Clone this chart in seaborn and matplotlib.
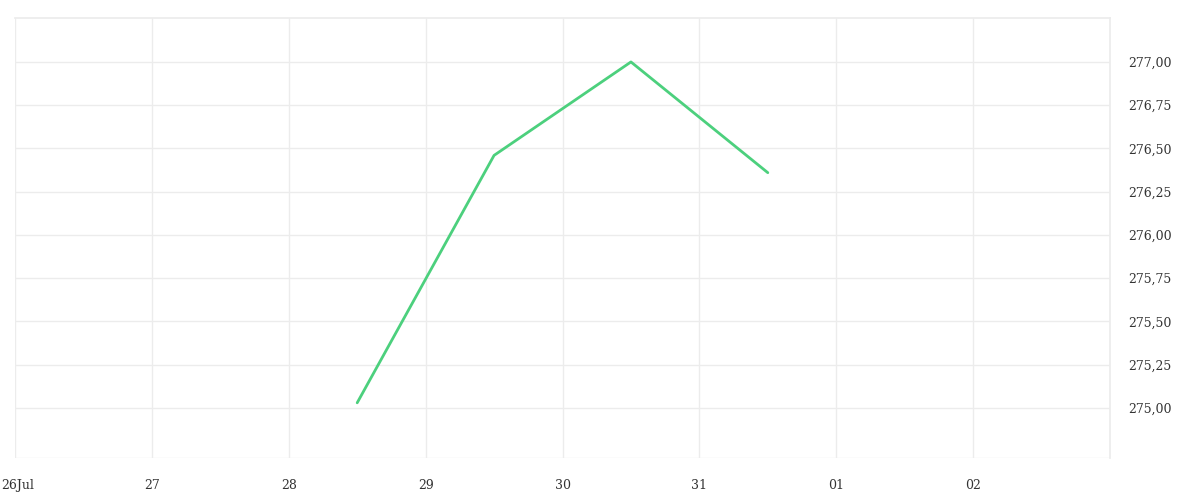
import numpy as np
import pandas as pd
import matplotlib.pyplot as plt
import matplotlib.ticker as mticker
import matplotlib.transforms as mtransforms
import seaborn as sns

dates = ["2023-07-28 12:00", "2023-07-29 12:00", "2023-07-30 12:00", "2023-07-31 12:00"]
prices = [275.03, 276.46, 277.00, 276.36]
tick_days = ["2023-07-26", "2023-07-27", "2023-07-28", "2023-07-29",
             "2023-07-30", "2023-07-31", "2023-08-01", "2023-08-02"]
tick_labels = ["26Jul", "27", "28", "29", "30", "31", "01", "02"]
y_ticks = [275.00, 275.25, 275.50, 275.75, 276.00, 276.25, 276.50, 276.75, 277.00]

df = pd.DataFrame({"date": pd.to_datetime(dates), "price": prices})

sns.set_theme(style="white")
plt.rcParams["font.family"] = ["DejaVu Serif"]
grid_col = "#ececec"
text_col = "#333333"

fig = plt.figure(figsize=(12, 5), dpi=100)
ax = fig.add_axes([0.0125, 0.084, 0.9125, 0.88])

sns.lineplot(data=df, x="date", y="price", ax=ax, color="#4cd07d", linewidth=2)

ax.set_xlim(pd.Timestamp("2023-07-26"), pd.Timestamp("2023-08-03"))
ax.set_ylim(274.711, 277.254)

ax.set_xticks(pd.to_datetime(tick_days))
ax.set_xticklabels(tick_labels)
ax.set_yticks(y_ticks)
ax.yaxis.set_major_formatter(mticker.FuncFormatter(lambda v, p: f"{v:.2f}".replace(".", ",")))
ax.yaxis.tick_right()

ax.grid(True, color=grid_col, linewidth=1)
for s in ["left", "bottom"]:
    ax.spines[s].set_visible(False)
ax.spines["top"].set_color(grid_col)
ax.spines["right"].set_color(grid_col)

ax.tick_params(axis="x", length=10, color=grid_col, width=1, labelsize=9,
               labelcolor=text_col, pad=5)
ax.tick_params(axis="y", length=0, labelsize=9, labelcolor=text_col, pad=13)
ax.axhline(274.711, color=grid_col, linewidth=1)
ax.set_xlabel("")
ax.set_ylabel("")

# keep the first date label inside the canvas
first = ax.get_xticklabels()[0]
first.set_transform(first.get_transform() + mtransforms.ScaledTranslation(2 / 72, 0, fig.dpi_scale_trans))

fig.savefig("out.png", dpi=100)
